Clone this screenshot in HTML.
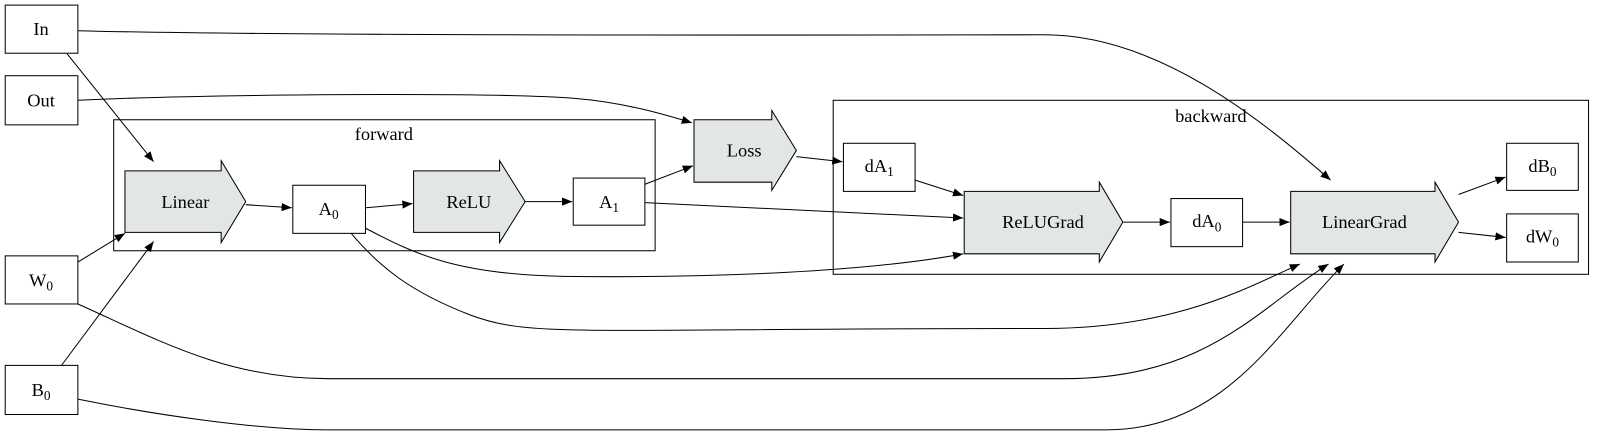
<!DOCTYPE html>
<html><head><style>html,body{margin:0;padding:0;background:#fff}svg{display:block}</style></head><body>
<svg width="1605" height="436" viewBox="0 0 1568 426" xmlns="http://www.w3.org/2000/svg" font-family="Liberation Serif, serif" font-size="18">
<defs><marker id="a" markerWidth="10" markerHeight="8" refX="10" refY="4" orient="auto" markerUnits="userSpaceOnUse"><path d="M0,0 L10,4 L0,8 z" fill="#000"/></marker></defs>
<g fill="none" stroke="#000" stroke-width="1">
<rect x="111" y="117" width="529" height="128"/>
<rect x="814" y="98" width="738" height="170"/>
</g>
<text x="375" y="137" text-anchor="middle">forward</text>
<text x="1183" y="119" text-anchor="middle">backward</text>
<g fill="#fff" stroke="#000">
<rect x="5" y="5" width="71" height="47"/>
<rect x="5" y="74" width="71" height="48"/>
<rect x="5" y="250" width="71" height="47"/>
<rect x="5" y="357" width="71" height="48"/>
<rect x="286" y="181" width="71" height="47"/>
<rect x="560" y="174" width="70" height="46"/>
<rect x="824" y="140" width="70" height="47"/>
<rect x="1144" y="194" width="70" height="47"/>
<rect x="1472" y="140" width="70" height="46"/>
<rect x="1472" y="209" width="70" height="47"/>
</g>
<g fill="#e3e6e6" stroke="#000">
<polygon points="122,167 216,167 216,157 240,197 216,237 216,227 122,227"/>
<polygon points="404,167 488,167 488,157 513,197 488,237 488,227 404,227"/>
<polygon points="678,117 754,117 754,108 778,147 754,186 754,178 678,178"/>
<polygon points="942,187 1074,187 1074,178 1097,217 1074,256 1074,248 942,248"/>
<polygon points="1261,187 1402,187 1402,178 1425,217 1402,256 1402,248 1261,248"/>
</g>
<g fill="none" stroke="#000" marker-end="url(#a)">
<path d="M65,52 L150,158"/>
<path d="M76,30 C300,36 900,34 1020,34 C1130,34 1230,115 1300,176"/>
<path d="M76,98 C200,92 480,90 560,96 C610,100 650,112 676,120"/>
<path d="M76,256 L122,228"/>
<path d="M60,357 L150,236"/>
<path d="M240,200 L285,203"/>
<path d="M357,203 L403,199"/>
<path d="M513,197 L559,197"/>
<path d="M630,180 L677,162"/>
<path d="M630,198 L941,213"/>
<path d="M778,153 L823,158"/>
<path d="M894,176 L941,191"/>
<path d="M357,223 C400,245 440,268 550,270 C700,272 850,265 941,248"/>
<path d="M343,228 C370,260 400,285 460,308 C520,330 560,321 1020,321 C1150,321 1220,280 1270,258"/>
<path d="M76,297 C150,330 220,370 320,370 L1040,370 C1180,370 1230,300 1298,258"/>
<path d="M76,390 C150,405 250,420 320,420 L1080,420 C1200,420 1250,320 1313,258"/>
<path d="M1097,217 L1143,217"/>
<path d="M1214,217 L1260,217"/>
<path d="M1425,190 L1471,173"/>
<path d="M1425,227 L1471,232"/>
</g>
<g text-anchor="middle">
<text x="40" y="34">In</text>
<text x="40" y="104">Out</text>
<text x="40" y="280">W<tspan font-size="13" dy="4">0</tspan></text>
<text x="40" y="387">B<tspan font-size="13" dy="4">0</tspan></text>
<text x="181" y="203">Linear</text>
<text x="321" y="210">A<tspan font-size="13" dy="4">0</tspan></text>
<text x="458" y="203">ReLU</text>
<text x="595" y="203">A<tspan font-size="13" dy="4">1</tspan></text>
<text x="727" y="153">Loss</text>
<text x="859" y="168">dA<tspan font-size="13" dy="4">1</tspan></text>
<text x="1019" y="223">ReLUGrad</text>
<text x="1179" y="222">dA<tspan font-size="13" dy="4">0</tspan></text>
<text x="1333" y="223">LinearGrad</text>
<text x="1507" y="168">dB<tspan font-size="13" dy="4">0</tspan></text>
<text x="1507" y="237">dW<tspan font-size="13" dy="4">0</tspan></text>
</g>
</svg>
</body></html>
